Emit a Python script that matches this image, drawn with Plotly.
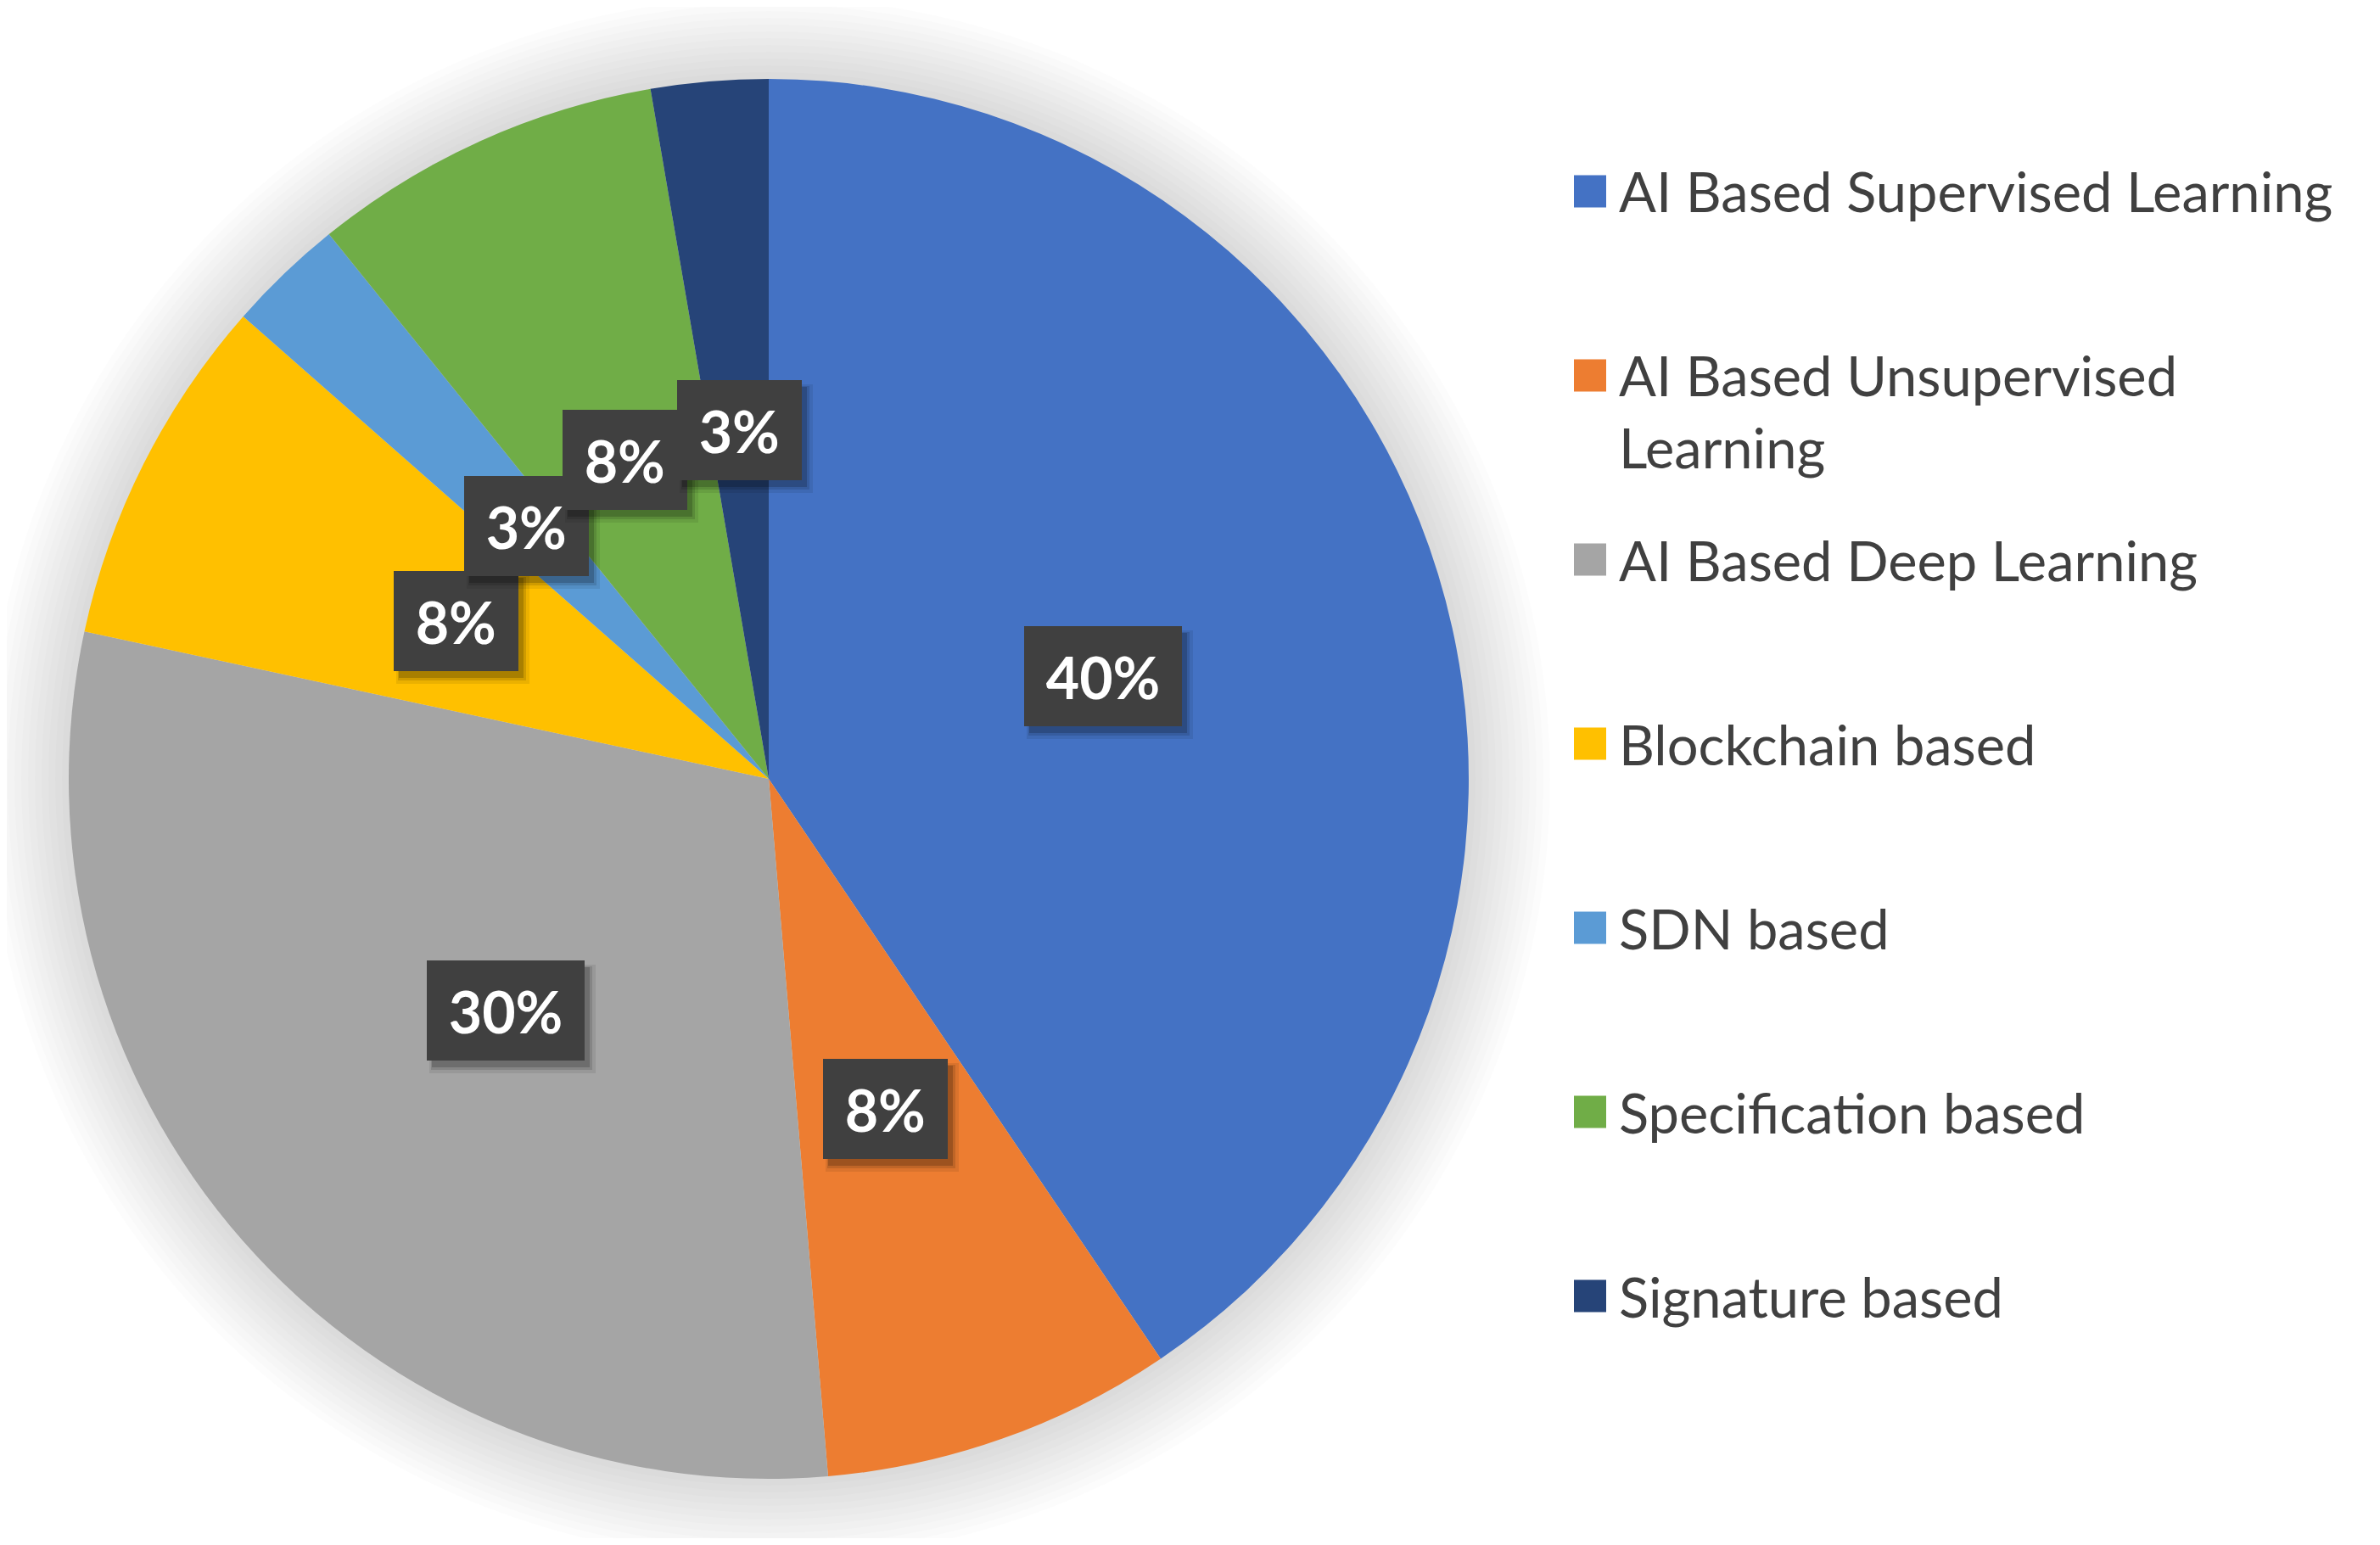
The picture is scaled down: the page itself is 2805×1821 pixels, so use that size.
import math
import plotly.graph_objects as go

# ---- data ----
categories = [
    "AI Based Supervised Learning",
    "AI Based Unsupervised Learning",
    "AI Based Deep Learning",
    "Blockchain based",
    "SDN based",
    "Specification based",
    "Signature based",
]
legend_labels = [
    "AI Based Supervised Learning",
    "AI Based Unsupervised<br>Learning",
    "AI Based Deep Learning",
    "Blockchain based",
    "SDN based",
    "Specification based",
    "Signature based",
]
counts = [15, 3, 11, 3, 1, 3, 1]
pct_labels = ["40%", "8%", "30%", "8%", "3%", "8%", "3%"]
colors = ["#4472C4", "#ED7D31", "#A5A5A5", "#FFC000", "#5B9BD5", "#70AD47", "#264478"]

# ---- geometry (screen pixels; page body has an 8px margin) ----
OFF = 8
W, H = 2805 - 2 * OFF, 1821 - 2 * OFF
CX, CY, R = 906 - OFF, 918 - OFF, 825     # pie centre (from top-left) and radius
dom_x = [(CX - R) / W, (CX + R) / W]
dom_y = [(H - CY - R) / H, (H - CY + R) / H]

fig = go.Figure()
fig.add_trace(go.Pie(
    labels=categories,
    values=counts,
    marker=dict(colors=colors, line=dict(width=0)),
    sort=False,
    direction="clockwise",
    rotation=0,
    textinfo="none",
    hoverinfo="label+percent",
    showlegend=False,
    domain=dict(x=dom_x, y=dom_y),
))

shapes = []
# soft glow shadow around pie
for k in range(12, 0, -1):
    rr = R + k * 8
    shapes.append(dict(
        type="circle", xref="paper", yref="paper", layer="below",
        x0=(CX - rr) / W, x1=(CX + rr) / W,
        y0=(H - CY - rr) / H, y1=(H - CY + rr) / H,
        fillcolor="rgba(0,0,0,0.013)", line=dict(width=0),
    ))

annotations = []
total = sum(counts)
cum = 0
FAM = "Lato, 'Open Sans', sans-serif"
lab_font = dict(family=FAM, size=68, color="white")
for v, lab in zip(counts, pct_labels):
    mid = (cum + v / 2) / total * 2 * math.pi
    cum += v
    px = CX + 0.5 * R * math.sin(mid)
    py = CY - 0.5 * R * math.cos(mid)
    xp, yp = px / W, (H - py) / H
    tw = 39.5 * (len(lab) - 1) + 59
    # blurred drop shadow (empty boxes)
    for (sx, sy, a, pad) in [(8, -10, 0.08, 29), (7, -9, 0.12, 26), (6, -8, 0.18, 24)]:
        annotations.append(dict(
            x=xp, y=yp, xref="paper", yref="paper", text=" ", showarrow=False,
            xanchor="center", yanchor="middle",
            font=dict(family=FAM, size=68, color="rgba(0,0,0,0)"),
            bgcolor=f"rgba(0,0,0,{a})", borderpad=pad, borderwidth=0,
            width=tw, height=70, xshift=sx, yshift=sy,
        ))
    annotations.append(dict(
        x=xp, y=yp, xref="paper", yref="paper", text=f"<b>{lab}</b>", showarrow=False,
        xanchor="center", yanchor="middle",
        font=lab_font, bgcolor="#404040", borderpad=24, borderwidth=0,
        width=tw, height=70,
    ))

# legend (manual, Excel style)
row0, row_gap = 225.5 - OFF, 217.0
sq = 38
sq_x = 1855 - OFF
txt_x = 1906 - OFF
leg_font = dict(family=FAM, size=65, color="#404040")
for i, (lab, col) in enumerate(zip(legend_labels, colors)):
    yc = row0 + i * row_gap
    shapes.append(dict(
        type="rect", xref="paper", yref="paper",
        x0=sq_x / W, x1=(sq_x + sq) / W,
        y0=(H - yc - sq / 2) / H, y1=(H - yc + sq / 2) / H,
        fillcolor=col, line=dict(width=0),
    ))
    nlines = lab.count("<br>") + 1
    ytext = yc + (nlines - 1) * 0.5 * 1.3 * leg_font["size"]
    annotations.append(dict(
        x=txt_x / W, y=(H - ytext) / H, xref="paper", yref="paper",
        text=lab, showarrow=False, xanchor="left", yanchor="middle", align="left",
        font=leg_font,
    ))

fig.update_layout(
    width=W, height=H,
    margin=dict(l=0, r=0, t=0, b=0),
    paper_bgcolor="white", plot_bgcolor="white",
    shapes=shapes, annotations=annotations,
    showlegend=False,
)
fig.write_html("out.html")
